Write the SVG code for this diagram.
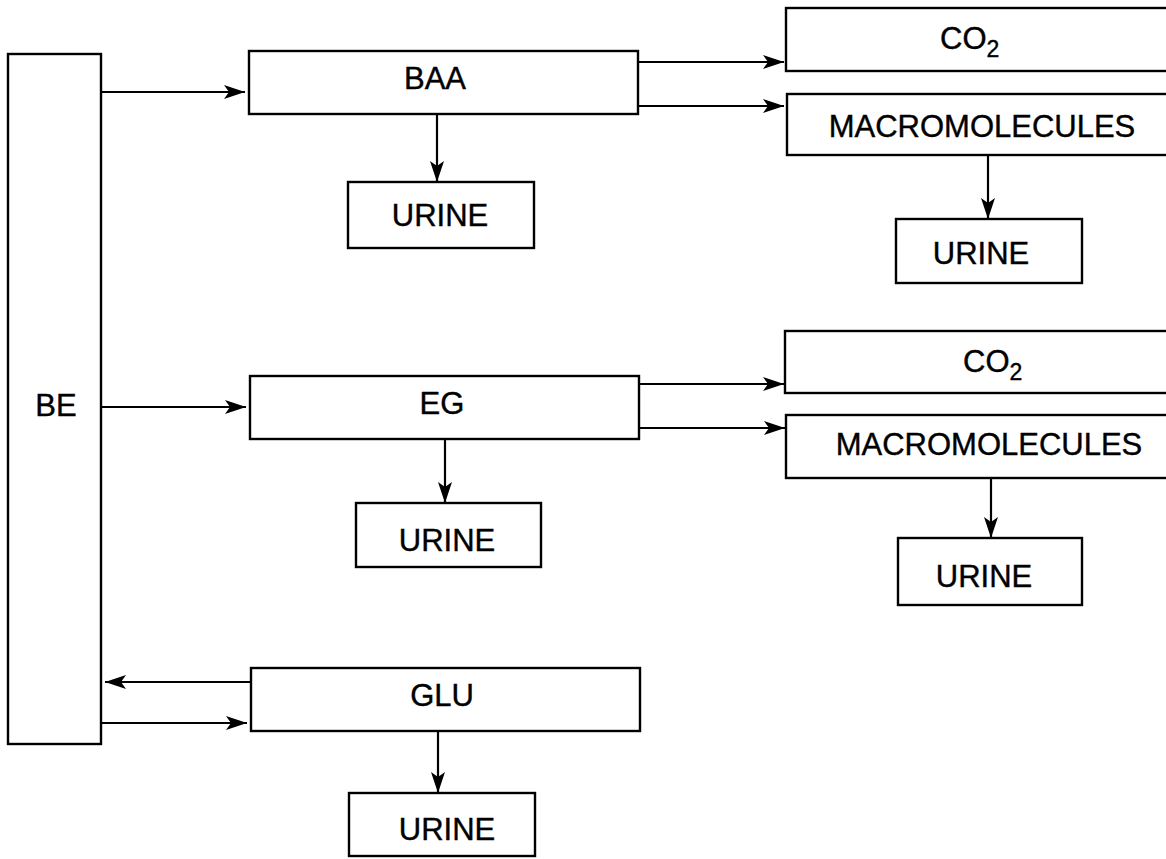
<svg xmlns="http://www.w3.org/2000/svg" width="1166" height="859" viewBox="0 0 1166 859">
<style>
.box{fill:#fff;stroke:#000;stroke-width:2.4}
.lbl{font-family:"Liberation Sans",Arial,Helvetica,sans-serif;font-size:31px;fill:#000;stroke:#000;stroke-width:0.4;text-anchor:middle}
.co2{font-family:"Liberation Sans",Arial,Helvetica,sans-serif;font-size:31px;fill:#000;stroke:#000;stroke-width:0.4}
.sub{font-size:23px}
.conn line{stroke:#000;stroke-width:2.2;fill:none;marker-end:url(#ah)}
</style>
<defs>
<marker id="ah" markerUnits="userSpaceOnUse" markerWidth="24" markerHeight="16" refX="21" refY="7" orient="auto">
<path d="M0,0 L21,7 L0,14 L5,7 z" fill="#000"/>
</marker>
</defs>
<rect width="1166" height="859" fill="#fff"/>
<g id="BE"><rect class="box" x="8" y="54" width="93" height="690"/><text class="lbl" x="56" y="416">BE</text></g>
<g id="BAA"><rect class="box" x="249" y="51" width="389" height="63"/><text class="lbl" x="435" y="89">BAA</text></g>
<g id="URINE_BAA"><rect class="box" x="348" y="182" width="186" height="66"/><text class="lbl" x="440" y="226">URINE</text></g>
<g id="CO2_1"><rect class="box" x="786" y="8" width="390" height="63"/><text class="co2" x="940" y="49">CO<tspan class="sub" dy="8">2</tspan></text></g>
<g id="MACRO_1"><rect class="box" x="787" y="94" width="390" height="61"/><text class="lbl" x="982" y="137">MACROMOLECULES</text></g>
<g id="URINE_MACRO_1"><rect class="box" x="896" y="219" width="186" height="64"/><text class="lbl" x="981" y="264">URINE</text></g>
<g id="EG"><rect class="box" x="250" y="376" width="389" height="63"/><text class="lbl" x="442" y="414">EG</text></g>
<g id="URINE_EG"><rect class="box" x="356" y="503" width="185" height="64"/><text class="lbl" x="447" y="551">URINE</text></g>
<g id="CO2_2"><rect class="box" x="785" y="331" width="390" height="62"/><text class="co2" x="963" y="372">CO<tspan class="sub" dy="8">2</tspan></text></g>
<g id="MACRO_2"><rect class="box" x="786" y="415" width="390" height="63"/><text class="lbl" x="989" y="455">MACROMOLECULES</text></g>
<g id="URINE_MACRO_2"><rect class="box" x="898" y="538" width="184" height="67"/><text class="lbl" x="984" y="587">URINE</text></g>
<g id="GLU"><rect class="box" x="251" y="668" width="389" height="63"/><text class="lbl" x="442" y="706">GLU</text></g>
<g id="URINE_GLU"><rect class="box" x="349" y="793" width="186" height="63"/><text class="lbl" x="447" y="840">URINE</text></g>
<g class="conn" id="connectors">
<line x1="101" y1="92" x2="245" y2="92"/>
<line x1="638" y1="62" x2="784" y2="62"/>
<line x1="638" y1="106" x2="784" y2="106"/>
<line x1="437" y1="115" x2="437" y2="182"/>
<line x1="988" y1="155" x2="988" y2="219"/>
<line x1="101" y1="407" x2="246" y2="407"/>
<line x1="639" y1="384" x2="784" y2="384"/>
<line x1="639" y1="428" x2="785" y2="428"/>
<line x1="445" y1="439" x2="445" y2="503"/>
<line x1="991" y1="478" x2="991" y2="538"/>
<line x1="251" y1="682" x2="105" y2="682"/>
<line x1="101" y1="723" x2="247" y2="723"/>
<line x1="438" y1="731" x2="438" y2="793"/>
</g>
</svg>
